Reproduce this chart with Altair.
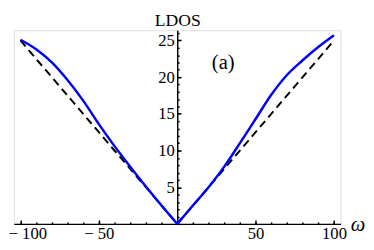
import altair as alt
import pandas as pd

# Blue curve (LDOS): negative and positive branches
omega_left = [-100, -90, -80, -70, -60, -50, -40, -30, -20, -10, 0]
ldos_left = [25.1, 23.8, 22.0, 19.6, 16.8, 13.6, 10.6, 7.8, 5.1, 2.5, 0.0]
omega_right = [0, 10, 20, 30, 40, 50, 60, 70, 80, 90, 100]
ldos_right = [0.0, 2.5, 5.0, 7.8, 11.0, 14.3, 17.6, 20.3, 22.3, 24.1, 25.7]

# Dashed reference line
omega_dash = [-100, 0, 100]
ldos_dash = [25.0, 0.0, 25.0]

x_major = [-100, -50, 50, 100]
x_minor = list(range(-100, 101, 10))
y_major = [5, 10, 15, 20, 25]
y_minor = list(range(0, 27))
panel_label = ["(a)"]

blue = pd.concat([
    pd.DataFrame({"w": omega_left, "v": ldos_left, "side": "neg"}),
    pd.DataFrame({"w": omega_right, "v": ldos_right, "side": "pos"}),
], ignore_index=True)
dash = pd.DataFrame({"w": omega_dash, "v": ldos_dash})
lab = pd.DataFrame({"t": panel_label})

W, H = 334, 198
XDOM = [-104.2, 104.2]
YDOM = [0, 26.4]
FONT = "Liberation Serif"

xs = alt.Scale(domain=XDOM, nice=False, zero=False)
ys = alt.Scale(domain=YDOM, nice=False, zero=False)

x_major_axis = alt.Axis(
    orient="top", offset=-H, values=x_major, tickSize=4, tickWidth=1.5,
    tickColor="black", domainColor="black", domainWidth=1.5,
    labelBaseline="top", labelPadding=-6, labelFont=FONT, labelFontSize=17,
    labelColor="black", labelOverlap=False, grid=False,
    labelExpr="datum.value < 0 ? '\u2212 ' + format(-datum.value, 'd') : format(datum.value, 'd')",
    labelOffset={"condition": {"test": "datum.value == -100", "value": 7}, "value": 0},
    title="ω", titleFont=FONT, titleFontSize=21, titleFontStyle="italic",
    titleFontWeight="normal", titleColor="black", titleAngle=0,
    titleAlign="left", titleBaseline="alphabetic", titleX=W + 10, titleY=7,
)
y_major_axis = alt.Axis(
    orient="right", offset=-(W - 167), values=y_major, tickSize=4, tickWidth=1.5,
    tickColor="black", domainColor="black", domainWidth=1.5,
    labelAlign="right", labelBaseline="middle", labelPadding=-7, labelFont=FONT,
    labelFontSize=17, labelColor="black", labelOverlap=False, grid=False,
    title="LDOS", titleFont=FONT, titleFontSize=18, titleFontWeight="normal",
    titleColor="black", titleAngle=0, titleAlign="center",
    titleBaseline="alphabetic", titleX=0, titleY=-5,
)
x_minor_axis = alt.Axis(
    orient="top", offset=-H, values=x_minor, tickSize=2, tickWidth=1.5,
    tickColor="black", domain=False, labels=False, grid=False, title=None,
)
y_minor_axis = alt.Axis(
    orient="right", offset=-(W - 167), values=y_minor, tickSize=2, tickWidth=1.5,
    tickColor="black", domain=False, labels=False, grid=False, title=None,
)

blue_line = alt.Chart(blue).mark_line(color="#0000ff", strokeWidth=2.5,
                                      interpolate="monotone").encode(
    x=alt.X("w:Q", scale=xs, axis=x_major_axis),
    y=alt.Y("v:Q", scale=ys, axis=y_major_axis),
    detail="side:N",
)
dash_line = alt.Chart(dash).mark_line(color="black", strokeWidth=2, strokeDash=[8, 5]).encode(
    x=alt.X("w:Q", scale=xs, axis=x_minor_axis),
    y=alt.Y("v:Q", scale=ys, axis=y_minor_axis),
)
label = alt.Chart(lab).mark_text(font=FONT, fontSize=21, color="black",
                                 align="center", baseline="middle").encode(
    text="t:N", x=alt.value(214), y=alt.value(34),
)

chart = alt.layer(dash_line, blue_line, label).resolve_axis(
    x="independent", y="independent"
).properties(
    width=W, height=H,
    autosize=alt.AutoSizeParams(type="none"),
    padding={"left": 6, "top": 20, "right": 26, "bottom": 24},
).configure_view(stroke=None).configure(
    background="white", font=FONT
).configure_axis(labelFont=FONT, titleFont=FONT)

chart.save("out.html", embed_options={"renderer": "svg", "actions": False})
